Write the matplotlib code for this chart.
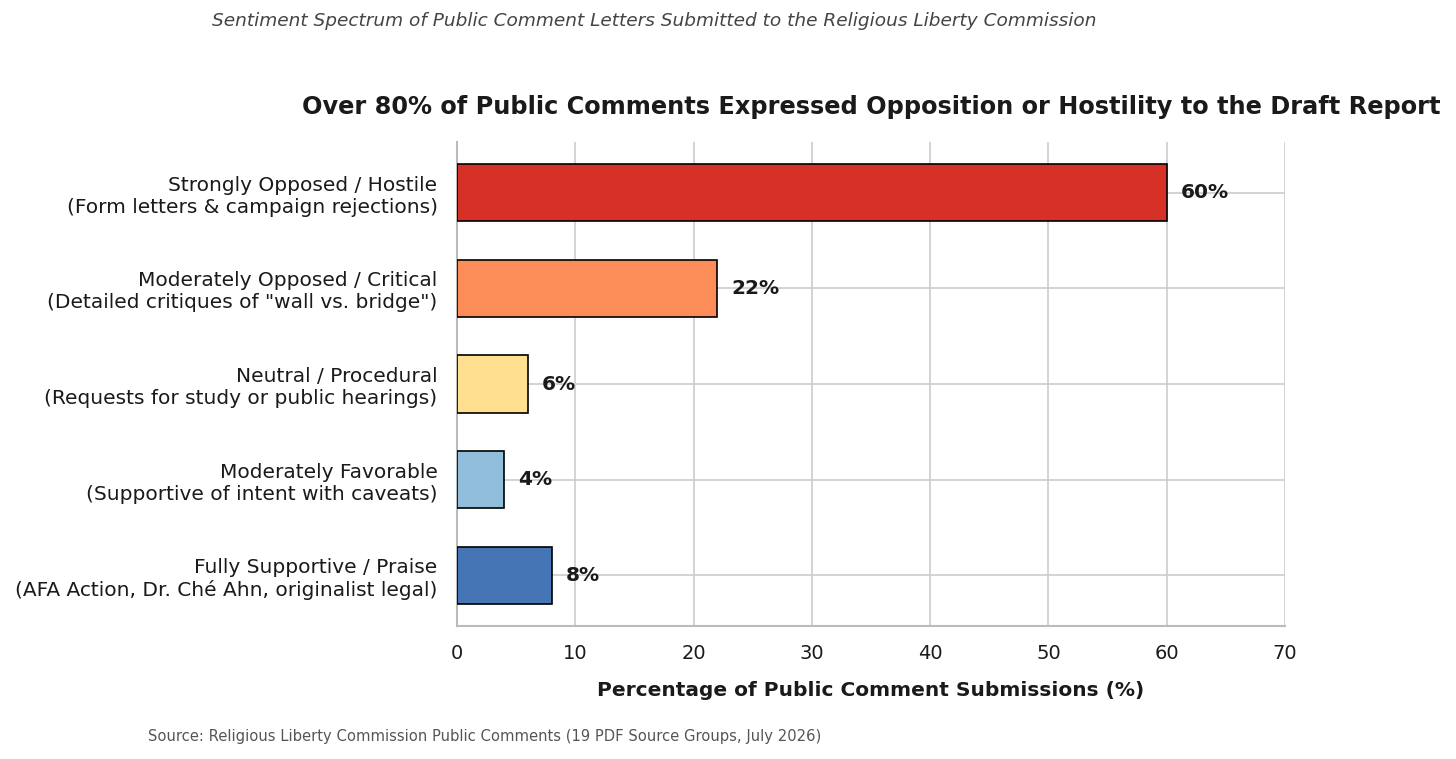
import matplotlib
matplotlib.use("Agg")
import matplotlib.pyplot as plt
import seaborn as sns

categories = [
    "Strongly Opposed / Hostile\n(Form letters & campaign rejections)",
    "Moderately Opposed / Critical\n(Detailed critiques of \"wall vs. bridge\")",
    "Neutral / Procedural\n(Requests for study or public hearings)",
    "Moderately Favorable\n(Supportive of intent with caveats)",
    "Fully Supportive / Praise\n(AFA Action, Dr. Ché Ahn, originalist legal)",
]
values = [60, 22, 6, 4, 8]
colors = ["#d73027", "#fc8d59", "#fee090", "#91bfdb", "#4575b4"]
xticks = [0, 10, 20, 30, 40, 50, 60, 70]

sns.set_theme(style="whitegrid")
plt.rcParams['font.family'] = ['DejaVu Sans']

fig = plt.figure(figsize=(14.56, 7.59), dpi=100)
ax = fig.add_axes([457/1456, 1 - 626/759, (1285-457)/1456, (626-142)/759])

ypos = list(range(len(categories)))
ax.barh(ypos, values, height=0.6, color=colors, edgecolor="black", linewidth=1.2, zorder=3)
ax.invert_yaxis()
ax.set_yticks(ypos)
ax.set_yticklabels(categories, fontsize=14.5, color="#1a1a1a")
ax.set_xlim(0, 70)
ax.set_xticks(xticks)
ax.tick_params(axis='x', labelsize=14, colors="#1a1a1a", pad=7)
ax.tick_params(axis='y', pad=8)

for y, v in zip(ypos, values):
    ax.text(v + 1.2, y, f"{v}%", va="center", ha="left", fontsize=14.5,
            fontweight="bold", color="#1a1a1a", zorder=4)

ax.grid(True, color="#cccccc", linewidth=1.2)
for s in ["top", "right"]:
    ax.spines[s].set_visible(False)
for s in ["left", "bottom"]:
    ax.spines[s].set_color("#bbbbbb")
    ax.spines[s].set_linewidth(1.5)

ax.set_xlabel("Percentage of Public Comment Submissions (%)", fontsize=14.5,
              fontweight="bold", color="#1a1a1a", labelpad=13)
ax.set_title("Over 80% of Public Comments Expressed Opposition or Hostility to the Draft Report",
             fontsize=17.3, fontweight="bold", color="#1a1a1a", pad=20)

fig.text(654/1456, 1 - 21/759, "Sentiment Spectrum of Public Comment Letters Submitted to the Religious Liberty Commission",
         ha="center", va="center", fontsize=13.3, style="italic", color="#444444")
fig.text(148/1456, 1 - 736/759, "Source: Religious Liberty Commission Public Comments (19 PDF Source Groups, July 2026)",
         ha="left", va="center", fontsize=10.6, color="#555555")

fig.savefig("out.png", dpi=100)
